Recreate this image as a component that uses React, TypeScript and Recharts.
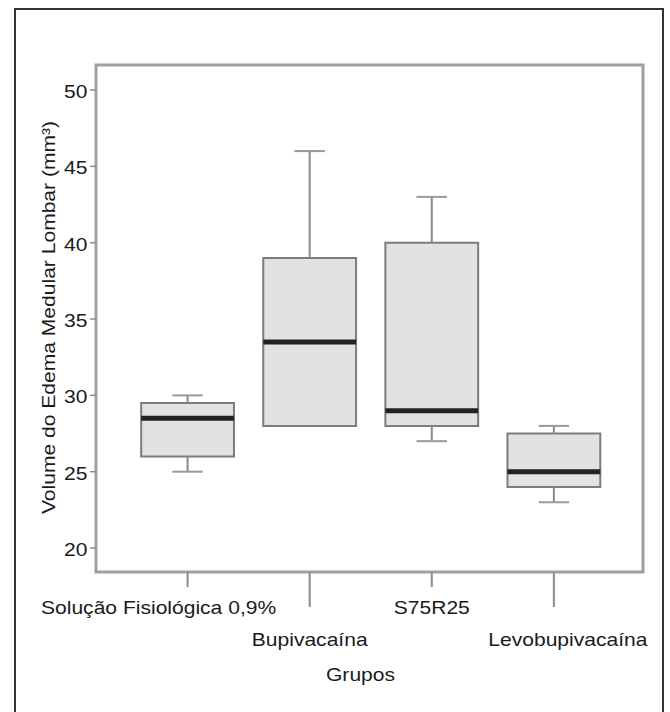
import React from 'react';
import { ComposedChart, XAxis, YAxis, ReferenceArea, ReferenceLine, Scatter, Label } from 'recharts';

const categories = ['Solução Fisiológica 0,9%', 'Bupivacaína', 'S75R25', 'Levobupivacaína'];
const positions = [1, 2, 3, 4];
const minValues = [25, 28, 27, 23];
const q1Values = [26, 28, 28, 24];
const medianValues = [28.5, 33.5, 29, 25];
const q3Values = [29.5, 39, 40, 27.5];
const maxValues = [30, 46, 43, 28];
const yTicks = [20, 25, 30, 35, 40, 45, 50];

const X_MIN = 0.25;
const X_MAX = 4.73;
const Y_MIN = 18.43;
const Y_MAX = 51.64;
const BOX_HALF = 0.38;
const CAP_HALF = 0.125;

const FONT = "'Liberation Sans', Arial, Helvetica, sans-serif";
const TEXT_COLOR = '#1a1a1a';
const LABEL_DX = [-29, 0, 0, 14];
const STRETCH = 1.17;

const scatterData = positions.map((p, i) => ({ x: p, y: medianValues[i] }));

const StretchText = ({ x, y, anchor, rotate, children }: any) => (
  <text
    transform={`translate(${x},${y})${rotate ? ' rotate(-90)' : ''} scale(${STRETCH},1)`}
    x={0}
    y={0}
    dy="0.36em"
    textAnchor={anchor}
    fontFamily={FONT}
    fontSize={18}
    fill={TEXT_COLOR}
  >
    {children}
  </text>
);

const XTick = (props: any) => {
  const { x, y, payload } = props;
  const i = positions.indexOf(payload.value);
  const low = i % 2 === 1;
  const tickLen = low ? 35 : 15;
  const labelOffset = low ? 68 : 36;
  return (
    <g>
      <line x1={x} y1={y} x2={x} y2={y + tickLen} stroke="#8c8c8c" strokeWidth={2} />
      <StretchText x={x + LABEL_DX[i]} y={y + labelOffset} anchor="middle">
        {categories[i]}
      </StretchText>
    </g>
  );
};

const YTick = (props: any) => {
  const { x, y, payload } = props;
  return (
    <StretchText x={x - 0.5} y={y + 1.5} anchor="end">
      {payload.value}
    </StretchText>
  );
};

export default function App() {
  return (
    <div style={{ position: 'absolute', left: 0, top: 0, width: 670, height: 712, overflow: 'hidden', background: '#fff' }}>
      <div
        style={{
          position: 'absolute',
          left: 14,
          top: 8,
          width: 646,
          height: 720,
          border: '2px solid #333',
          boxSizing: 'content-box',
        }}
      />
      <div style={{ position: 'absolute', left: 0, top: 0 }}>
        <ComposedChart
          width={670}
          height={712}
          data={scatterData}
          margin={{ top: 65, right: 27, bottom: 40, left: 0 }}
        >
          <XAxis
            type="number"
            dataKey="x"
            domain={[X_MIN, X_MAX]}
            allowDataOverflow
            ticks={positions}
            interval={0}
            axisLine={false}
            tickLine={false}
            tickSize={0}
            tickMargin={0}
            height={100}
            tick={(p: any) => <XTick {...p} />}
          >
            <Label
              content={(p: any) => {
                const vb = p.viewBox || {};
                return (
                  <StretchText x={vb.x + vb.width / 2 - 9} y={vb.y + 103} anchor="middle">
                    Grupos
                  </StretchText>
                );
              }}
            />
          </XAxis>
          <YAxis
            type="number"
            dataKey="y"
            domain={[Y_MIN, Y_MAX]}
            allowDataOverflow
            ticks={yTicks}
            interval={0}
            width={96}
            axisLine={false}
            tickSize={6}
            tickMargin={2}
            tickLine={{ stroke: '#8c8c8c', strokeWidth: 1.5 }}
            tick={(p: any) => <YTick {...p} />}
          >
            <Label
              content={(p: any) => {
                const vb = p.viewBox || {};
                return (
                  <StretchText x={49} y={vb.y + vb.height / 2 - 1} anchor="middle" rotate>
                    Volume do Edema Medular Lombar (mm³)
                  </StretchText>
                );
              }}
            />
          </YAxis>

          <ReferenceArea
            x1={X_MIN}
            x2={X_MAX}
            y1={Y_MIN}
            y2={Y_MAX}
            fill="none"
            fillOpacity={0}
            stroke="#a0a0a0"
            strokeWidth={3}
            ifOverflow="visible"
          />

          {positions.map((p, i) => (
            <ReferenceLine
              key={`wu-${i}`}
              segment={[{ x: p, y: q3Values[i] }, { x: p, y: maxValues[i] }]}
              stroke="#8a8a8a"
              strokeWidth={2}
              ifOverflow="visible"
            />
          ))}
          {positions.map((p, i) => (
            <ReferenceLine
              key={`cu-${i}`}
              segment={[{ x: p - CAP_HALF, y: maxValues[i] }, { x: p + CAP_HALF, y: maxValues[i] }]}
              stroke="#9a9a9a"
              strokeWidth={2}
              ifOverflow="visible"
            />
          ))}
          {positions.map((p, i) =>
            minValues[i] < q1Values[i] ? (
              <ReferenceLine
                key={`wl-${i}`}
                segment={[{ x: p, y: minValues[i] }, { x: p, y: q1Values[i] }]}
                stroke="#8a8a8a"
                strokeWidth={2}
                ifOverflow="visible"
              />
            ) : null
          )}
          {positions.map((p, i) =>
            minValues[i] < q1Values[i] ? (
              <ReferenceLine
                key={`cl-${i}`}
                segment={[{ x: p - CAP_HALF, y: minValues[i] }, { x: p + CAP_HALF, y: minValues[i] }]}
                stroke="#9a9a9a"
                strokeWidth={2}
                ifOverflow="visible"
              />
            ) : null
          )}
          {positions.map((p, i) => (
            <ReferenceArea
              key={`box-${i}`}
              x1={p - BOX_HALF}
              x2={p + BOX_HALF}
              y1={q1Values[i]}
              y2={q3Values[i]}
              fill="#e1e2e4"
              fillOpacity={1}
              stroke="#7c7c7c"
              strokeWidth={2}
              ifOverflow="visible"
            />
          ))}
          {positions.map((p, i) => (
            <ReferenceLine
              key={`med-${i}`}
              segment={[{ x: p - BOX_HALF, y: medianValues[i] }, { x: p + BOX_HALF, y: medianValues[i] }]}
              stroke="#222222"
              strokeWidth={5}
              ifOverflow="visible"
            />
          ))}

          <Scatter data={scatterData} dataKey="y" isAnimationActive={false} shape={() => <g />} />
        </ComposedChart>
      </div>
    </div>
  );
}
